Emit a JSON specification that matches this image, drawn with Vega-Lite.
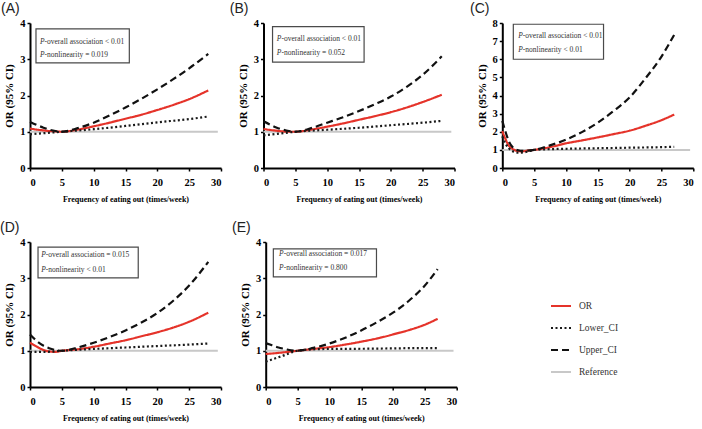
{
  "$schema": "https://vega.github.io/schema/vega-lite/v6.json",
  "background": "white",
  "padding": {"left": 0, "top": 2, "right": 0, "bottom": 0},
  "datasets": {
    "curves": [
      {"panel": "A", "series": "Reference", "x": 0, "or": 1}, {"panel": "A", "series": "Reference", "x": 29.5, "or": 1},
      {"panel": "A", "series": "OR", "x": 0, "or": 1.09}, {"panel": "A", "series": "OR", "x": 1, "or": 1.06}, {"panel": "A", "series": "OR", "x": 2, "or": 1.04}, {"panel": "A", "series": "OR", "x": 3, "or": 1.02}, {"panel": "A", "series": "OR", "x": 4, "or": 1.01}, {"panel": "A", "series": "OR", "x": 5, "or": 1.0}, {"panel": "A", "series": "OR", "x": 7.5, "or": 1.06}, {"panel": "A", "series": "OR", "x": 10, "or": 1.15}, {"panel": "A", "series": "OR", "x": 12.5, "or": 1.25}, {"panel": "A", "series": "OR", "x": 15, "or": 1.36}, {"panel": "A", "series": "OR", "x": 17.5, "or": 1.47}, {"panel": "A", "series": "OR", "x": 20, "or": 1.6}, {"panel": "A", "series": "OR", "x": 22.5, "or": 1.74}, {"panel": "A", "series": "OR", "x": 25, "or": 1.9}, {"panel": "A", "series": "OR", "x": 28, "or": 2.14},
      {"panel": "A", "series": "Lower_CI", "x": 0, "or": 0.93}, {"panel": "A", "series": "Lower_CI", "x": 2.5, "or": 0.965}, {"panel": "A", "series": "Lower_CI", "x": 5, "or": 1.0}, {"panel": "A", "series": "Lower_CI", "x": 10, "or": 1.07}, {"panel": "A", "series": "Lower_CI", "x": 15, "or": 1.16}, {"panel": "A", "series": "Lower_CI", "x": 20, "or": 1.26}, {"panel": "A", "series": "Lower_CI", "x": 25, "or": 1.35}, {"panel": "A", "series": "Lower_CI", "x": 28, "or": 1.42},
      {"panel": "A", "series": "Upper_CI", "x": 0, "or": 1.27}, {"panel": "A", "series": "Upper_CI", "x": 1, "or": 1.19}, {"panel": "A", "series": "Upper_CI", "x": 2, "or": 1.12}, {"panel": "A", "series": "Upper_CI", "x": 3, "or": 1.06}, {"panel": "A", "series": "Upper_CI", "x": 4, "or": 1.02}, {"panel": "A", "series": "Upper_CI", "x": 5, "or": 1.0}, {"panel": "A", "series": "Upper_CI", "x": 7.5, "or": 1.1}, {"panel": "A", "series": "Upper_CI", "x": 10, "or": 1.25}, {"panel": "A", "series": "Upper_CI", "x": 12.5, "or": 1.45}, {"panel": "A", "series": "Upper_CI", "x": 15, "or": 1.67}, {"panel": "A", "series": "Upper_CI", "x": 17.5, "or": 1.91}, {"panel": "A", "series": "Upper_CI", "x": 20, "or": 2.17}, {"panel": "A", "series": "Upper_CI", "x": 22.5, "or": 2.45}, {"panel": "A", "series": "Upper_CI", "x": 25, "or": 2.75}, {"panel": "A", "series": "Upper_CI", "x": 28, "or": 3.15},

      {"panel": "B", "series": "Reference", "x": 0, "or": 1}, {"panel": "B", "series": "Reference", "x": 29.5, "or": 1},
      {"panel": "B", "series": "OR", "x": 0, "or": 1.08}, {"panel": "B", "series": "OR", "x": 1, "or": 1.05}, {"panel": "B", "series": "OR", "x": 2, "or": 1.03}, {"panel": "B", "series": "OR", "x": 3, "or": 1.01}, {"panel": "B", "series": "OR", "x": 4, "or": 1.0}, {"panel": "B", "series": "OR", "x": 5, "or": 1.0}, {"panel": "B", "series": "OR", "x": 7.5, "or": 1.06}, {"panel": "B", "series": "OR", "x": 10, "or": 1.14}, {"panel": "B", "series": "OR", "x": 12.5, "or": 1.23}, {"panel": "B", "series": "OR", "x": 15, "or": 1.33}, {"panel": "B", "series": "OR", "x": 17.5, "or": 1.43}, {"panel": "B", "series": "OR", "x": 20, "or": 1.54}, {"panel": "B", "series": "OR", "x": 22.5, "or": 1.67}, {"panel": "B", "series": "OR", "x": 25, "or": 1.82}, {"panel": "B", "series": "OR", "x": 28, "or": 2.02},
      {"panel": "B", "series": "Lower_CI", "x": 0, "or": 0.9}, {"panel": "B", "series": "Lower_CI", "x": 2.5, "or": 0.95}, {"panel": "B", "series": "Lower_CI", "x": 5, "or": 1.0}, {"panel": "B", "series": "Lower_CI", "x": 10, "or": 1.055}, {"panel": "B", "series": "Lower_CI", "x": 15, "or": 1.11}, {"panel": "B", "series": "Lower_CI", "x": 20, "or": 1.18}, {"panel": "B", "series": "Lower_CI", "x": 25, "or": 1.25}, {"panel": "B", "series": "Lower_CI", "x": 28, "or": 1.3},
      {"panel": "B", "series": "Upper_CI", "x": 0, "or": 1.29}, {"panel": "B", "series": "Upper_CI", "x": 1, "or": 1.2}, {"panel": "B", "series": "Upper_CI", "x": 2, "or": 1.12}, {"panel": "B", "series": "Upper_CI", "x": 3, "or": 1.06}, {"panel": "B", "series": "Upper_CI", "x": 4, "or": 1.02}, {"panel": "B", "series": "Upper_CI", "x": 5, "or": 1.0}, {"panel": "B", "series": "Upper_CI", "x": 7.5, "or": 1.1}, {"panel": "B", "series": "Upper_CI", "x": 10, "or": 1.25}, {"panel": "B", "series": "Upper_CI", "x": 12.5, "or": 1.4}, {"panel": "B", "series": "Upper_CI", "x": 15, "or": 1.57}, {"panel": "B", "series": "Upper_CI", "x": 17.5, "or": 1.76}, {"panel": "B", "series": "Upper_CI", "x": 20, "or": 1.97}, {"panel": "B", "series": "Upper_CI", "x": 22.5, "or": 2.24}, {"panel": "B", "series": "Upper_CI", "x": 25, "or": 2.57}, {"panel": "B", "series": "Upper_CI", "x": 28, "or": 3.08},

      {"panel": "C", "series": "Reference", "x": 0, "or": 1}, {"panel": "C", "series": "Reference", "x": 29.5, "or": 1},
      {"panel": "C", "series": "OR", "x": 0, "or": 2.03}, {"panel": "C", "series": "OR", "x": 0.5, "or": 1.6}, {"panel": "C", "series": "OR", "x": 1, "or": 1.25}, {"panel": "C", "series": "OR", "x": 1.5, "or": 1.08}, {"panel": "C", "series": "OR", "x": 2, "or": 0.98}, {"panel": "C", "series": "OR", "x": 2.5, "or": 0.93}, {"panel": "C", "series": "OR", "x": 3, "or": 0.92}, {"panel": "C", "series": "OR", "x": 3.5, "or": 0.93}, {"panel": "C", "series": "OR", "x": 4, "or": 0.96}, {"panel": "C", "series": "OR", "x": 5, "or": 1.0}, {"panel": "C", "series": "OR", "x": 7.5, "or": 1.15}, {"panel": "C", "series": "OR", "x": 10, "or": 1.36}, {"panel": "C", "series": "OR", "x": 12.5, "or": 1.52}, {"panel": "C", "series": "OR", "x": 15, "or": 1.69}, {"panel": "C", "series": "OR", "x": 17.5, "or": 1.87}, {"panel": "C", "series": "OR", "x": 20, "or": 2.06}, {"panel": "C", "series": "OR", "x": 22.5, "or": 2.33}, {"panel": "C", "series": "OR", "x": 25, "or": 2.64}, {"panel": "C", "series": "OR", "x": 27, "or": 2.95},
      {"panel": "C", "series": "Lower_CI", "x": 0, "or": 1.75}, {"panel": "C", "series": "Lower_CI", "x": 0.5, "or": 1.35}, {"panel": "C", "series": "Lower_CI", "x": 1, "or": 1.1}, {"panel": "C", "series": "Lower_CI", "x": 1.5, "or": 0.95}, {"panel": "C", "series": "Lower_CI", "x": 2, "or": 0.88}, {"panel": "C", "series": "Lower_CI", "x": 2.5, "or": 0.85}, {"panel": "C", "series": "Lower_CI", "x": 3, "or": 0.85}, {"panel": "C", "series": "Lower_CI", "x": 3.5, "or": 0.87}, {"panel": "C", "series": "Lower_CI", "x": 4, "or": 0.91}, {"panel": "C", "series": "Lower_CI", "x": 5, "or": 1.0}, {"panel": "C", "series": "Lower_CI", "x": 7.5, "or": 1.04}, {"panel": "C", "series": "Lower_CI", "x": 10, "or": 1.06}, {"panel": "C", "series": "Lower_CI", "x": 15, "or": 1.09}, {"panel": "C", "series": "Lower_CI", "x": 20, "or": 1.12}, {"panel": "C", "series": "Lower_CI", "x": 25, "or": 1.15}, {"panel": "C", "series": "Lower_CI", "x": 27, "or": 1.17},
      {"panel": "C", "series": "Upper_CI", "x": 0, "or": 2.6}, {"panel": "C", "series": "Upper_CI", "x": 0.5, "or": 2.0}, {"panel": "C", "series": "Upper_CI", "x": 1, "or": 1.5}, {"panel": "C", "series": "Upper_CI", "x": 1.5, "or": 1.2}, {"panel": "C", "series": "Upper_CI", "x": 2, "or": 1.05}, {"panel": "C", "series": "Upper_CI", "x": 2.5, "or": 0.98}, {"panel": "C", "series": "Upper_CI", "x": 3, "or": 0.95}, {"panel": "C", "series": "Upper_CI", "x": 4, "or": 0.96}, {"panel": "C", "series": "Upper_CI", "x": 5, "or": 1.0}, {"panel": "C", "series": "Upper_CI", "x": 7.5, "or": 1.25}, {"panel": "C", "series": "Upper_CI", "x": 10, "or": 1.56}, {"panel": "C", "series": "Upper_CI", "x": 12.5, "or": 1.98}, {"panel": "C", "series": "Upper_CI", "x": 15, "or": 2.5}, {"panel": "C", "series": "Upper_CI", "x": 17.5, "or": 3.15}, {"panel": "C", "series": "Upper_CI", "x": 20, "or": 3.9}, {"panel": "C", "series": "Upper_CI", "x": 22.5, "or": 4.95}, {"panel": "C", "series": "Upper_CI", "x": 25, "or": 6.15}, {"panel": "C", "series": "Upper_CI", "x": 27, "or": 7.35},

      {"panel": "D", "series": "Reference", "x": 0, "or": 1}, {"panel": "D", "series": "Reference", "x": 29.5, "or": 1},
      {"panel": "D", "series": "OR", "x": 0, "or": 1.22}, {"panel": "D", "series": "OR", "x": 1, "or": 1.12}, {"panel": "D", "series": "OR", "x": 2, "or": 1.03}, {"panel": "D", "series": "OR", "x": 3, "or": 0.98}, {"panel": "D", "series": "OR", "x": 4, "or": 0.97}, {"panel": "D", "series": "OR", "x": 5, "or": 1.0}, {"panel": "D", "series": "OR", "x": 7.5, "or": 1.04}, {"panel": "D", "series": "OR", "x": 10, "or": 1.11}, {"panel": "D", "series": "OR", "x": 12.5, "or": 1.2}, {"panel": "D", "series": "OR", "x": 15, "or": 1.29}, {"panel": "D", "series": "OR", "x": 17.5, "or": 1.4}, {"panel": "D", "series": "OR", "x": 20, "or": 1.51}, {"panel": "D", "series": "OR", "x": 22.5, "or": 1.64}, {"panel": "D", "series": "OR", "x": 25, "or": 1.8}, {"panel": "D", "series": "OR", "x": 28, "or": 2.05},
      {"panel": "D", "series": "Lower_CI", "x": 0, "or": 0.97}, {"panel": "D", "series": "Lower_CI", "x": 2.5, "or": 0.97}, {"panel": "D", "series": "Lower_CI", "x": 5, "or": 1.0}, {"panel": "D", "series": "Lower_CI", "x": 10, "or": 1.05}, {"panel": "D", "series": "Lower_CI", "x": 15, "or": 1.09}, {"panel": "D", "series": "Lower_CI", "x": 20, "or": 1.13}, {"panel": "D", "series": "Lower_CI", "x": 25, "or": 1.17}, {"panel": "D", "series": "Lower_CI", "x": 28, "or": 1.2},
      {"panel": "D", "series": "Upper_CI", "x": 0, "or": 1.45}, {"panel": "D", "series": "Upper_CI", "x": 1, "or": 1.28}, {"panel": "D", "series": "Upper_CI", "x": 2, "or": 1.15}, {"panel": "D", "series": "Upper_CI", "x": 3, "or": 1.07}, {"panel": "D", "series": "Upper_CI", "x": 4, "or": 1.02}, {"panel": "D", "series": "Upper_CI", "x": 5, "or": 1.0}, {"panel": "D", "series": "Upper_CI", "x": 7.5, "or": 1.09}, {"panel": "D", "series": "Upper_CI", "x": 10, "or": 1.22}, {"panel": "D", "series": "Upper_CI", "x": 12.5, "or": 1.38}, {"panel": "D", "series": "Upper_CI", "x": 15, "or": 1.56}, {"panel": "D", "series": "Upper_CI", "x": 17.5, "or": 1.78}, {"panel": "D", "series": "Upper_CI", "x": 20, "or": 2.04}, {"panel": "D", "series": "Upper_CI", "x": 22.5, "or": 2.38}, {"panel": "D", "series": "Upper_CI", "x": 25, "or": 2.8}, {"panel": "D", "series": "Upper_CI", "x": 28, "or": 3.45},

      {"panel": "E", "series": "Reference", "x": 0, "or": 1}, {"panel": "E", "series": "Reference", "x": 29.5, "or": 1},
      {"panel": "E", "series": "OR", "x": 0, "or": 0.91}, {"panel": "E", "series": "OR", "x": 2.5, "or": 0.95}, {"panel": "E", "series": "OR", "x": 5, "or": 1.0}, {"panel": "E", "series": "OR", "x": 7.5, "or": 1.05}, {"panel": "E", "series": "OR", "x": 10, "or": 1.1}, {"panel": "E", "series": "OR", "x": 12.5, "or": 1.17}, {"panel": "E", "series": "OR", "x": 15, "or": 1.25}, {"panel": "E", "series": "OR", "x": 17.5, "or": 1.34}, {"panel": "E", "series": "OR", "x": 20, "or": 1.45}, {"panel": "E", "series": "OR", "x": 22.5, "or": 1.57}, {"panel": "E", "series": "OR", "x": 25, "or": 1.72}, {"panel": "E", "series": "OR", "x": 27, "or": 1.88},
      {"panel": "E", "series": "Lower_CI", "x": 0, "or": 0.7}, {"panel": "E", "series": "Lower_CI", "x": 2.5, "or": 0.85}, {"panel": "E", "series": "Lower_CI", "x": 5, "or": 1.0}, {"panel": "E", "series": "Lower_CI", "x": 7.5, "or": 1.04}, {"panel": "E", "series": "Lower_CI", "x": 10, "or": 1.05}, {"panel": "E", "series": "Lower_CI", "x": 15, "or": 1.055}, {"panel": "E", "series": "Lower_CI", "x": 20, "or": 1.065}, {"panel": "E", "series": "Lower_CI", "x": 25, "or": 1.075}, {"panel": "E", "series": "Lower_CI", "x": 27, "or": 1.075},
      {"panel": "E", "series": "Upper_CI", "x": 0, "or": 1.21}, {"panel": "E", "series": "Upper_CI", "x": 1, "or": 1.15}, {"panel": "E", "series": "Upper_CI", "x": 2, "or": 1.09}, {"panel": "E", "series": "Upper_CI", "x": 3, "or": 1.05}, {"panel": "E", "series": "Upper_CI", "x": 4, "or": 1.01}, {"panel": "E", "series": "Upper_CI", "x": 5, "or": 1.0}, {"panel": "E", "series": "Upper_CI", "x": 7.5, "or": 1.08}, {"panel": "E", "series": "Upper_CI", "x": 10, "or": 1.2}, {"panel": "E", "series": "Upper_CI", "x": 12.5, "or": 1.36}, {"panel": "E", "series": "Upper_CI", "x": 15, "or": 1.56}, {"panel": "E", "series": "Upper_CI", "x": 17.5, "or": 1.79}, {"panel": "E", "series": "Upper_CI", "x": 20, "or": 2.05}, {"panel": "E", "series": "Upper_CI", "x": 22.5, "or": 2.38}, {"panel": "E", "series": "Upper_CI", "x": 25, "or": 2.8}, {"panel": "E", "series": "Upper_CI", "x": 27, "or": 3.25}
    ],
    "boxes": [
      {"panel": "A", "x1": 0.94, "x2": 15.6, "y1": 2.9, "y2": 3.84},
      {"panel": "B", "x1": 1.42, "x2": 15.8, "y1": 2.92, "y2": 3.9},
      {"panel": "C", "x1": 1.73, "x2": 15.9, "y1": 6.0, "y2": 7.93},
      {"panel": "D", "x1": 1.26, "x2": 17.0, "y1": 3.01, "y2": 3.86},
      {"panel": "E", "x1": 1.2, "x2": 17.4, "y1": 3.04, "y2": 3.81}
    ],
    "notes": [
      {"panel": "A", "x": 1.56, "y": 3.48, "t": "-overall association < 0.01"},
      {"panel": "A", "x": 1.56, "y": 3.12, "t": "-nonlinearity = 0.019"},
      {"panel": "B", "x": 2.1, "y": 3.55, "t": "-overall association < 0.01"},
      {"panel": "B", "x": 2.1, "y": 3.16, "t": "-nonlinearity = 0.052"},
      {"panel": "C", "x": 2.5, "y": 7.3, "t": "-overall association < 0.01"},
      {"panel": "C", "x": 2.5, "y": 6.5, "t": "-nonlinearity < 0.01"},
      {"panel": "D", "x": 1.77, "y": 3.63, "t": "-overall association = 0.015"},
      {"panel": "D", "x": 1.77, "y": 3.24, "t": "-nonlinearity < 0.01"},
      {"panel": "E", "x": 2.1, "y": 3.66, "t": "-overall association = 0.017"},
      {"panel": "E", "x": 2.1, "y": 3.29, "t": "-nonlinearity = 0.800"}
    ]
  },
  "vconcat": [
    {
      "spacing": 7.5,
      "hconcat": [
        {
          "width": 191, "height": 145,
          "title": {"text": "(A)", "frame": "group", "dx": -29},
          "layer": [
            {"data": {"name": "boxes"}, "transform": [{"filter": "datum.panel === 'A'"}],
             "mark": {"type": "rect", "fill": "white", "stroke": "#4a4a4a", "strokeWidth": 1.2},
             "encoding": {"x": {"field": "x1", "type": "quantitative", "scale": {"domain": [0, 30], "nice": false}, "axis": {"values": [0, 5, 10, 15, 20, 25, 30], "title": "Frequency of eating out (times/week)"}}, "x2": {"field": "x2"},
                          "y": {"field": "y1", "type": "quantitative", "scale": {"domain": [0, 4], "nice": false}, "axis": {"values": [0, 1, 2, 3, 4], "title": "OR (95% CI)"}}, "y2": {"field": "y2"}}},
            {"data": {"name": "notes"}, "transform": [{"filter": "datum.panel === 'A'"}],
             "mark": {"type": "text", "text": "P", "fontStyle": "italic", "align": "left", "baseline": "middle", "font": "Liberation Serif", "fontSize": 7.5, "color": "#333"},
             "encoding": {"x": {"field": "x", "type": "quantitative", "scale": {"domain": [0, 30], "nice": false}, "axis": {"values": [0, 5, 10, 15, 20, 25, 30], "title": "Frequency of eating out (times/week)"}},
                          "y": {"field": "y", "type": "quantitative", "scale": {"domain": [0, 4], "nice": false}, "axis": {"values": [0, 1, 2, 3, 4], "title": "OR (95% CI)"}}}},
            {"data": {"name": "notes"}, "transform": [{"filter": "datum.panel === 'A'"}],
             "mark": {"type": "text", "dx": 4.6, "align": "left", "baseline": "middle", "font": "Liberation Serif", "fontSize": 7.5, "color": "#333"},
             "encoding": {"x": {"field": "x", "type": "quantitative", "scale": {"domain": [0, 30], "nice": false}, "axis": {"values": [0, 5, 10, 15, 20, 25, 30], "title": "Frequency of eating out (times/week)"}},
                          "y": {"field": "y", "type": "quantitative", "scale": {"domain": [0, 4], "nice": false}, "axis": {"values": [0, 1, 2, 3, 4], "title": "OR (95% CI)"}},
                          "text": {"field": "t"}}},
            {"data": {"name": "curves"}, "transform": [{"filter": "datum.panel === 'A' && datum.series === 'Reference'"}],
             "mark": {"type": "line", "strokeWidth": 2},
             "encoding": {"x": {"field": "x", "type": "quantitative", "scale": {"domain": [0, 30], "nice": false}, "axis": {"values": [0, 5, 10, 15, 20, 25, 30], "title": "Frequency of eating out (times/week)"}},
                          "y": {"field": "or", "type": "quantitative", "scale": {"domain": [0, 4], "nice": false}, "axis": {"values": [0, 1, 2, 3, 4], "title": "OR (95% CI)"}},
                          "color": {"field": "series", "type": "nominal", "scale": {"domain": ["OR", "Lower_CI", "Upper_CI", "Reference"], "range": ["#e5332a", "#1a1a1a", "#111111", "#c8c8c8"]}, "legend": {"title": null, "orient": "none", "legendX": 520, "legendY": 272, "padding": 0, "rowPadding": 6, "labelOffset": 7, "labelFont": "Liberation Serif", "labelFontSize": 9.5, "labelColor": "#333"}},
                          "strokeDash": {"field": "series", "type": "nominal", "scale": {"domain": ["OR", "Lower_CI", "Upper_CI", "Reference"], "range": [[1, 0], [2, 2.5], [7, 4], [1, 0]]}, "legend": {"title": null, "orient": "none", "legendX": 520, "legendY": 272, "padding": 0, "rowPadding": 6, "labelOffset": 7, "labelFont": "Liberation Serif", "labelFontSize": 9.5, "labelColor": "#333"}}}},
            {"data": {"name": "curves"}, "transform": [{"filter": "datum.panel === 'A' && datum.series !== 'Reference'"}],
             "mark": {"type": "line", "strokeWidth": 2.2, "interpolate": "monotone"},
             "encoding": {"x": {"field": "x", "type": "quantitative", "scale": {"domain": [0, 30], "nice": false}, "axis": {"values": [0, 5, 10, 15, 20, 25, 30], "title": "Frequency of eating out (times/week)"}},
                          "y": {"field": "or", "type": "quantitative", "scale": {"domain": [0, 4], "nice": false}, "axis": {"values": [0, 1, 2, 3, 4], "title": "OR (95% CI)"}},
                          "color": {"field": "series", "type": "nominal", "scale": {"domain": ["OR", "Lower_CI", "Upper_CI", "Reference"], "range": ["#e5332a", "#1a1a1a", "#111111", "#c8c8c8"]}, "legend": {"title": null, "orient": "none", "legendX": 520, "legendY": 272, "padding": 0, "rowPadding": 6, "labelOffset": 7, "labelFont": "Liberation Serif", "labelFontSize": 9.5, "labelColor": "#333"}},
                          "strokeDash": {"field": "series", "type": "nominal", "scale": {"domain": ["OR", "Lower_CI", "Upper_CI", "Reference"], "range": [[1, 0], [2, 2.5], [7, 4], [1, 0]]}, "legend": {"title": null, "orient": "none", "legendX": 520, "legendY": 272, "padding": 0, "rowPadding": 6, "labelOffset": 7, "labelFont": "Liberation Serif", "labelFontSize": 9.5, "labelColor": "#333"}}}}
          ]
        },
        {
          "spacing": 13.8,
          "hconcat": [
            {
              "width": 191, "height": 145,
              "title": {"text": "(B)", "frame": "group", "dx": -33.7},
              "layer": [
                {"data": {"name": "boxes"}, "transform": [{"filter": "datum.panel === 'B'"}],
                 "mark": {"type": "rect", "fill": "white", "stroke": "#4a4a4a", "strokeWidth": 1.2},
                 "encoding": {"x": {"field": "x1", "type": "quantitative", "scale": {"domain": [0, 30], "nice": false}, "axis": {"values": [0, 5, 10, 15, 20, 25, 30], "title": "Frequency of eating out (times/week)"}}, "x2": {"field": "x2"},
                              "y": {"field": "y1", "type": "quantitative", "scale": {"domain": [0, 4], "nice": false}, "axis": {"values": [0, 1, 2, 3, 4], "title": "OR (95% CI)"}}, "y2": {"field": "y2"}}},
                {"data": {"name": "notes"}, "transform": [{"filter": "datum.panel === 'B'"}],
                 "mark": {"type": "text", "text": "P", "fontStyle": "italic", "align": "left", "baseline": "middle", "font": "Liberation Serif", "fontSize": 7.5, "color": "#333"},
                 "encoding": {"x": {"field": "x", "type": "quantitative", "scale": {"domain": [0, 30], "nice": false}, "axis": {"values": [0, 5, 10, 15, 20, 25, 30], "title": "Frequency of eating out (times/week)"}},
                              "y": {"field": "y", "type": "quantitative", "scale": {"domain": [0, 4], "nice": false}, "axis": {"values": [0, 1, 2, 3, 4], "title": "OR (95% CI)"}}}},
                {"data": {"name": "notes"}, "transform": [{"filter": "datum.panel === 'B'"}],
                 "mark": {"type": "text", "dx": 4.6, "align": "left", "baseline": "middle", "font": "Liberation Serif", "fontSize": 7.5, "color": "#333"},
                 "encoding": {"x": {"field": "x", "type": "quantitative", "scale": {"domain": [0, 30], "nice": false}, "axis": {"values": [0, 5, 10, 15, 20, 25, 30], "title": "Frequency of eating out (times/week)"}},
                              "y": {"field": "y", "type": "quantitative", "scale": {"domain": [0, 4], "nice": false}, "axis": {"values": [0, 1, 2, 3, 4], "title": "OR (95% CI)"}},
                              "text": {"field": "t"}}},
                {"data": {"name": "curves"}, "transform": [{"filter": "datum.panel === 'B' && datum.series === 'Reference'"}],
                 "mark": {"type": "line", "strokeWidth": 2},
                 "encoding": {"x": {"field": "x", "type": "quantitative", "scale": {"domain": [0, 30], "nice": false}, "axis": {"values": [0, 5, 10, 15, 20, 25, 30], "title": "Frequency of eating out (times/week)"}},
                              "y": {"field": "or", "type": "quantitative", "scale": {"domain": [0, 4], "nice": false}, "axis": {"values": [0, 1, 2, 3, 4], "title": "OR (95% CI)"}},
                              "color": {"field": "series", "type": "nominal", "scale": {"domain": ["OR", "Lower_CI", "Upper_CI", "Reference"], "range": ["#e5332a", "#1a1a1a", "#111111", "#c8c8c8"]}, "legend": {"title": null, "orient": "none", "legendX": 520, "legendY": 272, "padding": 0, "rowPadding": 6, "labelOffset": 7, "labelFont": "Liberation Serif", "labelFontSize": 9.5, "labelColor": "#333"}},
                              "strokeDash": {"field": "series", "type": "nominal", "scale": {"domain": ["OR", "Lower_CI", "Upper_CI", "Reference"], "range": [[1, 0], [2, 2.5], [7, 4], [1, 0]]}, "legend": {"title": null, "orient": "none", "legendX": 520, "legendY": 272, "padding": 0, "rowPadding": 6, "labelOffset": 7, "labelFont": "Liberation Serif", "labelFontSize": 9.5, "labelColor": "#333"}}}},
                {"data": {"name": "curves"}, "transform": [{"filter": "datum.panel === 'B' && datum.series !== 'Reference'"}],
                 "mark": {"type": "line", "strokeWidth": 2.2, "interpolate": "monotone"},
                 "encoding": {"x": {"field": "x", "type": "quantitative", "scale": {"domain": [0, 30], "nice": false}, "axis": {"values": [0, 5, 10, 15, 20, 25, 30], "title": "Frequency of eating out (times/week)"}},
                              "y": {"field": "or", "type": "quantitative", "scale": {"domain": [0, 4], "nice": false}, "axis": {"values": [0, 1, 2, 3, 4], "title": "OR (95% CI)"}},
                              "color": {"field": "series", "type": "nominal", "scale": {"domain": ["OR", "Lower_CI", "Upper_CI", "Reference"], "range": ["#e5332a", "#1a1a1a", "#111111", "#c8c8c8"]}, "legend": {"title": null, "orient": "none", "legendX": 520, "legendY": 272, "padding": 0, "rowPadding": 6, "labelOffset": 7, "labelFont": "Liberation Serif", "labelFontSize": 9.5, "labelColor": "#333"}},
                              "strokeDash": {"field": "series", "type": "nominal", "scale": {"domain": ["OR", "Lower_CI", "Upper_CI", "Reference"], "range": [[1, 0], [2, 2.5], [7, 4], [1, 0]]}, "legend": {"title": null, "orient": "none", "legendX": 520, "legendY": 272, "padding": 0, "rowPadding": 6, "labelOffset": 7, "labelFont": "Liberation Serif", "labelFontSize": 9.5, "labelColor": "#333"}}}}
              ]
            },
            {
              "width": 191, "height": 145,
              "title": {"text": "(C)", "frame": "group", "dx": -32.3},
              "layer": [
                {"data": {"name": "boxes"}, "transform": [{"filter": "datum.panel === 'C'"}],
                 "mark": {"type": "rect", "fill": "white", "stroke": "#4a4a4a", "strokeWidth": 1.2},
                 "encoding": {"x": {"field": "x1", "type": "quantitative", "scale": {"domain": [0, 30], "nice": false}, "axis": {"values": [0, 5, 10, 15, 20, 25, 30], "title": "Frequency of eating out (times/week)"}}, "x2": {"field": "x2"},
                              "y": {"field": "y1", "type": "quantitative", "scale": {"domain": [0, 8], "nice": false}, "axis": {"values": [0, 1, 2, 3, 4, 5, 6, 7, 8], "title": "OR (95% CI)"}}, "y2": {"field": "y2"}}},
                {"data": {"name": "notes"}, "transform": [{"filter": "datum.panel === 'C'"}],
                 "mark": {"type": "text", "text": "P", "fontStyle": "italic", "align": "left", "baseline": "middle", "font": "Liberation Serif", "fontSize": 7.5, "color": "#333"},
                 "encoding": {"x": {"field": "x", "type": "quantitative", "scale": {"domain": [0, 30], "nice": false}, "axis": {"values": [0, 5, 10, 15, 20, 25, 30], "title": "Frequency of eating out (times/week)"}},
                              "y": {"field": "y", "type": "quantitative", "scale": {"domain": [0, 8], "nice": false}, "axis": {"values": [0, 1, 2, 3, 4, 5, 6, 7, 8], "title": "OR (95% CI)"}}}},
                {"data": {"name": "notes"}, "transform": [{"filter": "datum.panel === 'C'"}],
                 "mark": {"type": "text", "dx": 4.6, "align": "left", "baseline": "middle", "font": "Liberation Serif", "fontSize": 7.5, "color": "#333"},
                 "encoding": {"x": {"field": "x", "type": "quantitative", "scale": {"domain": [0, 30], "nice": false}, "axis": {"values": [0, 5, 10, 15, 20, 25, 30], "title": "Frequency of eating out (times/week)"}},
                              "y": {"field": "y", "type": "quantitative", "scale": {"domain": [0, 8], "nice": false}, "axis": {"values": [0, 1, 2, 3, 4, 5, 6, 7, 8], "title": "OR (95% CI)"}},
                              "text": {"field": "t"}}},
                {"data": {"name": "curves"}, "transform": [{"filter": "datum.panel === 'C' && datum.series === 'Reference'"}],
                 "mark": {"type": "line", "strokeWidth": 2},
                 "encoding": {"x": {"field": "x", "type": "quantitative", "scale": {"domain": [0, 30], "nice": false}, "axis": {"values": [0, 5, 10, 15, 20, 25, 30], "title": "Frequency of eating out (times/week)"}},
                              "y": {"field": "or", "type": "quantitative", "scale": {"domain": [0, 8], "nice": false}, "axis": {"values": [0, 1, 2, 3, 4, 5, 6, 7, 8], "title": "OR (95% CI)"}},
                              "color": {"field": "series", "type": "nominal", "scale": {"domain": ["OR", "Lower_CI", "Upper_CI", "Reference"], "range": ["#e5332a", "#1a1a1a", "#111111", "#c8c8c8"]}, "legend": {"title": null, "orient": "none", "legendX": 520, "legendY": 272, "padding": 0, "rowPadding": 6, "labelOffset": 7, "labelFont": "Liberation Serif", "labelFontSize": 9.5, "labelColor": "#333"}},
                              "strokeDash": {"field": "series", "type": "nominal", "scale": {"domain": ["OR", "Lower_CI", "Upper_CI", "Reference"], "range": [[1, 0], [2, 2.5], [7, 4], [1, 0]]}, "legend": {"title": null, "orient": "none", "legendX": 520, "legendY": 272, "padding": 0, "rowPadding": 6, "labelOffset": 7, "labelFont": "Liberation Serif", "labelFontSize": 9.5, "labelColor": "#333"}}}},
                {"data": {"name": "curves"}, "transform": [{"filter": "datum.panel === 'C' && datum.series !== 'Reference'"}],
                 "mark": {"type": "line", "strokeWidth": 2.2, "interpolate": "monotone"},
                 "encoding": {"x": {"field": "x", "type": "quantitative", "scale": {"domain": [0, 30], "nice": false}, "axis": {"values": [0, 5, 10, 15, 20, 25, 30], "title": "Frequency of eating out (times/week)"}},
                              "y": {"field": "or", "type": "quantitative", "scale": {"domain": [0, 8], "nice": false}, "axis": {"values": [0, 1, 2, 3, 4, 5, 6, 7, 8], "title": "OR (95% CI)"}},
                              "color": {"field": "series", "type": "nominal", "scale": {"domain": ["OR", "Lower_CI", "Upper_CI", "Reference"], "range": ["#e5332a", "#1a1a1a", "#111111", "#c8c8c8"]}, "legend": {"title": null, "orient": "none", "legendX": 520, "legendY": 272, "padding": 0, "rowPadding": 6, "labelOffset": 7, "labelFont": "Liberation Serif", "labelFontSize": 9.5, "labelColor": "#333"}},
                              "strokeDash": {"field": "series", "type": "nominal", "scale": {"domain": ["OR", "Lower_CI", "Upper_CI", "Reference"], "range": [[1, 0], [2, 2.5], [7, 4], [1, 0]]}, "legend": {"title": null, "orient": "none", "legendX": 520, "legendY": 272, "padding": 0, "rowPadding": 6, "labelOffset": 7, "labelFont": "Liberation Serif", "labelFontSize": 9.5, "labelColor": "#333"}}}}
              ]
            }
          ]
        }
      ]
    },
    {
      "spacing": 9.7,
      "hconcat": [
        {
          "width": 191, "height": 145,
          "title": {"text": "(D)", "frame": "group", "dx": -30},
          "layer": [
            {"data": {"name": "boxes"}, "transform": [{"filter": "datum.panel === 'D'"}],
             "mark": {"type": "rect", "fill": "white", "stroke": "#4a4a4a", "strokeWidth": 1.2},
             "encoding": {"x": {"field": "x1", "type": "quantitative", "scale": {"domain": [0, 30], "nice": false}, "axis": {"values": [0, 5, 10, 15, 20, 25, 30], "title": "Frequency of eating out (times/week)"}}, "x2": {"field": "x2"},
                          "y": {"field": "y1", "type": "quantitative", "scale": {"domain": [0, 4], "nice": false}, "axis": {"values": [0, 1, 2, 3, 4], "title": "OR (95% CI)"}}, "y2": {"field": "y2"}}},
            {"data": {"name": "notes"}, "transform": [{"filter": "datum.panel === 'D'"}],
             "mark": {"type": "text", "text": "P", "fontStyle": "italic", "align": "left", "baseline": "middle", "font": "Liberation Serif", "fontSize": 7.5, "color": "#333"},
             "encoding": {"x": {"field": "x", "type": "quantitative", "scale": {"domain": [0, 30], "nice": false}, "axis": {"values": [0, 5, 10, 15, 20, 25, 30], "title": "Frequency of eating out (times/week)"}},
                          "y": {"field": "y", "type": "quantitative", "scale": {"domain": [0, 4], "nice": false}, "axis": {"values": [0, 1, 2, 3, 4], "title": "OR (95% CI)"}}}},
            {"data": {"name": "notes"}, "transform": [{"filter": "datum.panel === 'D'"}],
             "mark": {"type": "text", "dx": 4.6, "align": "left", "baseline": "middle", "font": "Liberation Serif", "fontSize": 7.5, "color": "#333"},
             "encoding": {"x": {"field": "x", "type": "quantitative", "scale": {"domain": [0, 30], "nice": false}, "axis": {"values": [0, 5, 10, 15, 20, 25, 30], "title": "Frequency of eating out (times/week)"}},
                          "y": {"field": "y", "type": "quantitative", "scale": {"domain": [0, 4], "nice": false}, "axis": {"values": [0, 1, 2, 3, 4], "title": "OR (95% CI)"}},
                          "text": {"field": "t"}}},
            {"data": {"name": "curves"}, "transform": [{"filter": "datum.panel === 'D' && datum.series === 'Reference'"}],
             "mark": {"type": "line", "strokeWidth": 2},
             "encoding": {"x": {"field": "x", "type": "quantitative", "scale": {"domain": [0, 30], "nice": false}, "axis": {"values": [0, 5, 10, 15, 20, 25, 30], "title": "Frequency of eating out (times/week)"}},
                          "y": {"field": "or", "type": "quantitative", "scale": {"domain": [0, 4], "nice": false}, "axis": {"values": [0, 1, 2, 3, 4], "title": "OR (95% CI)"}},
                          "color": {"field": "series", "type": "nominal", "scale": {"domain": ["OR", "Lower_CI", "Upper_CI", "Reference"], "range": ["#e5332a", "#1a1a1a", "#111111", "#c8c8c8"]}, "legend": {"title": null, "orient": "none", "legendX": 520, "legendY": 272, "padding": 0, "rowPadding": 6, "labelOffset": 7, "labelFont": "Liberation Serif", "labelFontSize": 9.5, "labelColor": "#333"}},
                          "strokeDash": {"field": "series", "type": "nominal", "scale": {"domain": ["OR", "Lower_CI", "Upper_CI", "Reference"], "range": [[1, 0], [2, 2.5], [7, 4], [1, 0]]}, "legend": {"title": null, "orient": "none", "legendX": 520, "legendY": 272, "padding": 0, "rowPadding": 6, "labelOffset": 7, "labelFont": "Liberation Serif", "labelFontSize": 9.5, "labelColor": "#333"}}}},
            {"data": {"name": "curves"}, "transform": [{"filter": "datum.panel === 'D' && datum.series !== 'Reference'"}],
             "mark": {"type": "line", "strokeWidth": 2.2, "interpolate": "monotone"},
             "encoding": {"x": {"field": "x", "type": "quantitative", "scale": {"domain": [0, 30], "nice": false}, "axis": {"values": [0, 5, 10, 15, 20, 25, 30], "title": "Frequency of eating out (times/week)"}},
                          "y": {"field": "or", "type": "quantitative", "scale": {"domain": [0, 4], "nice": false}, "axis": {"values": [0, 1, 2, 3, 4], "title": "OR (95% CI)"}},
                          "color": {"field": "series", "type": "nominal", "scale": {"domain": ["OR", "Lower_CI", "Upper_CI", "Reference"], "range": ["#e5332a", "#1a1a1a", "#111111", "#c8c8c8"]}, "legend": {"title": null, "orient": "none", "legendX": 520, "legendY": 272, "padding": 0, "rowPadding": 6, "labelOffset": 7, "labelFont": "Liberation Serif", "labelFontSize": 9.5, "labelColor": "#333"}},
                          "strokeDash": {"field": "series", "type": "nominal", "scale": {"domain": ["OR", "Lower_CI", "Upper_CI", "Reference"], "range": [[1, 0], [2, 2.5], [7, 4], [1, 0]]}, "legend": {"title": null, "orient": "none", "legendX": 520, "legendY": 272, "padding": 0, "rowPadding": 6, "labelOffset": 7, "labelFont": "Liberation Serif", "labelFontSize": 9.5, "labelColor": "#333"}}}}
          ]
        },
        {
          "width": 191, "height": 145,
          "title": {"text": "(E)", "frame": "group", "dx": -33.7},
          "layer": [
            {"data": {"name": "boxes"}, "transform": [{"filter": "datum.panel === 'E'"}],
             "mark": {"type": "rect", "fill": "white", "stroke": "#4a4a4a", "strokeWidth": 1.2},
             "encoding": {"x": {"field": "x1", "type": "quantitative", "scale": {"domain": [0, 30], "nice": false}, "axis": {"values": [0, 5, 10, 15, 20, 25, 30], "title": "Frequency of eating out (times/week)"}}, "x2": {"field": "x2"},
                          "y": {"field": "y1", "type": "quantitative", "scale": {"domain": [0, 4], "nice": false}, "axis": {"values": [0, 1, 2, 3, 4], "title": "OR (95% CI)"}}, "y2": {"field": "y2"}}},
            {"data": {"name": "notes"}, "transform": [{"filter": "datum.panel === 'E'"}],
             "mark": {"type": "text", "text": "P", "fontStyle": "italic", "align": "left", "baseline": "middle", "font": "Liberation Serif", "fontSize": 7.5, "color": "#333"},
             "encoding": {"x": {"field": "x", "type": "quantitative", "scale": {"domain": [0, 30], "nice": false}, "axis": {"values": [0, 5, 10, 15, 20, 25, 30], "title": "Frequency of eating out (times/week)"}},
                          "y": {"field": "y", "type": "quantitative", "scale": {"domain": [0, 4], "nice": false}, "axis": {"values": [0, 1, 2, 3, 4], "title": "OR (95% CI)"}}}},
            {"data": {"name": "notes"}, "transform": [{"filter": "datum.panel === 'E'"}],
             "mark": {"type": "text", "dx": 4.6, "align": "left", "baseline": "middle", "font": "Liberation Serif", "fontSize": 7.5, "color": "#333"},
             "encoding": {"x": {"field": "x", "type": "quantitative", "scale": {"domain": [0, 30], "nice": false}, "axis": {"values": [0, 5, 10, 15, 20, 25, 30], "title": "Frequency of eating out (times/week)"}},
                          "y": {"field": "y", "type": "quantitative", "scale": {"domain": [0, 4], "nice": false}, "axis": {"values": [0, 1, 2, 3, 4], "title": "OR (95% CI)"}},
                          "text": {"field": "t"}}},
            {"data": {"name": "curves"}, "transform": [{"filter": "datum.panel === 'E' && datum.series === 'Reference'"}],
             "mark": {"type": "line", "strokeWidth": 2},
             "encoding": {"x": {"field": "x", "type": "quantitative", "scale": {"domain": [0, 30], "nice": false}, "axis": {"values": [0, 5, 10, 15, 20, 25, 30], "title": "Frequency of eating out (times/week)"}},
                          "y": {"field": "or", "type": "quantitative", "scale": {"domain": [0, 4], "nice": false}, "axis": {"values": [0, 1, 2, 3, 4], "title": "OR (95% CI)"}},
                          "color": {"field": "series", "type": "nominal", "scale": {"domain": ["OR", "Lower_CI", "Upper_CI", "Reference"], "range": ["#e5332a", "#1a1a1a", "#111111", "#c8c8c8"]}, "legend": {"title": null, "orient": "none", "legendX": 520, "legendY": 272, "padding": 0, "rowPadding": 6, "labelOffset": 7, "labelFont": "Liberation Serif", "labelFontSize": 9.5, "labelColor": "#333"}},
                          "strokeDash": {"field": "series", "type": "nominal", "scale": {"domain": ["OR", "Lower_CI", "Upper_CI", "Reference"], "range": [[1, 0], [2, 2.5], [7, 4], [1, 0]]}, "legend": {"title": null, "orient": "none", "legendX": 520, "legendY": 272, "padding": 0, "rowPadding": 6, "labelOffset": 7, "labelFont": "Liberation Serif", "labelFontSize": 9.5, "labelColor": "#333"}}}},
            {"data": {"name": "curves"}, "transform": [{"filter": "datum.panel === 'E' && datum.series !== 'Reference'"}],
             "mark": {"type": "line", "strokeWidth": 2.2, "interpolate": "monotone"},
             "encoding": {"x": {"field": "x", "type": "quantitative", "scale": {"domain": [0, 30], "nice": false}, "axis": {"values": [0, 5, 10, 15, 20, 25, 30], "title": "Frequency of eating out (times/week)"}},
                          "y": {"field": "or", "type": "quantitative", "scale": {"domain": [0, 4], "nice": false}, "axis": {"values": [0, 1, 2, 3, 4], "title": "OR (95% CI)"}},
                          "color": {"field": "series", "type": "nominal", "scale": {"domain": ["OR", "Lower_CI", "Upper_CI", "Reference"], "range": ["#e5332a", "#1a1a1a", "#111111", "#c8c8c8"]}, "legend": {"title": null, "orient": "none", "legendX": 520, "legendY": 272, "padding": 0, "rowPadding": 6, "labelOffset": 7, "labelFont": "Liberation Serif", "labelFontSize": 9.5, "labelColor": "#333"}},
                          "strokeDash": {"field": "series", "type": "nominal", "scale": {"domain": ["OR", "Lower_CI", "Upper_CI", "Reference"], "range": [[1, 0], [2, 2.5], [7, 4], [1, 0]]}, "legend": {"title": null, "orient": "none", "legendX": 520, "legendY": 272, "padding": 0, "rowPadding": 6, "labelOffset": 7, "labelFont": "Liberation Serif", "labelFontSize": 9.5, "labelColor": "#333"}}}}
          ]
        }
      ]
    }
  ],
  "spacing": 17,
  "config": {
    "view": {"stroke": null},
    "axis": {"grid": false, "domainColor": "black", "domainWidth": 2, "tickColor": "black", "tickWidth": 1.5, "tickSize": 3,
             "labelFont": "Liberation Serif", "labelFontWeight": "bold", "labelFontSize": 10.5, "labelColor": "black",
             "titleFont": "Liberation Serif", "titleFontWeight": "bold", "titleColor": "black"},
    "axisX": {"titleFontSize": 8, "titlePadding": 8, "labelPadding": 6},
    "axisY": {"titleFontSize": 11, "titlePadding": 5, "labelPadding": 2},
    "title": {"font": "Liberation Sans", "fontSize": 14, "fontWeight": "normal", "anchor": "start", "color": "#222", "offset": 2},
    "legend": {"symbolType": "stroke", "symbolSize": 400, "symbolStrokeWidth": 2,
               "labelFont": "Liberation Serif", "labelFontSize": 9.5, "labelColor": "#333", "labelOffset": 7}
  }
}
